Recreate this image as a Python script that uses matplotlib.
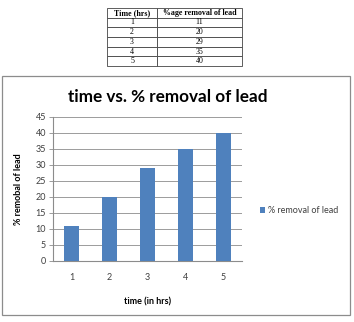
import matplotlib
matplotlib.use('Agg')
import matplotlib.pyplot as plt
from matplotlib.patches import Rectangle

hours = [1, 2, 3, 4, 5]
removal = [11, 20, 29, 35, 40]
col_labels = ['Time (hrs)', '%age removal of lead']
yticks = [0, 5, 10, 15, 20, 25, 30, 35, 40, 45]

plt.rcParams['font.family'] = ['Lato', 'DejaVu Sans']

fig = plt.figure(figsize=(3.54, 3.22), dpi=100)

# data table at the top
tax = fig.add_axes([107 / 354., 1 - 66 / 322., 135 / 354., 58 / 322.])
tax.axis('off')
cells = [[str(h), str(r)] for h, r in zip(hours, removal)]
tbl = tax.table(cellText=cells, colLabels=col_labels, cellLoc='center',
                bbox=[0, 0, 1, 1], colWidths=[50 / 135., 85 / 135.])
tbl.auto_set_font_size(False)
for (row, col), cell in tbl.get_celld().items():
    cell.set_linewidth(0.6)
    cell.set_edgecolor('#444444')
    cell.get_text().set_fontsize(5.7)
    cell.get_text().set_family('Liberation Serif')
    if row == 0:
        cell.get_text().set_fontweight('bold')

# chart frame
fig.patches.append(Rectangle((2 / 354., 1 - 315 / 322.), 348 / 354., 239 / 322.,
                             transform=fig.transFigure, fill=False,
                             edgecolor='#8c8c8c', linewidth=0.9))

ax = fig.add_axes([53 / 354., 1 - 261 / 322., 189 / 354., 144 / 322.])
ax.bar(hours, removal, width=0.4, color='#4f81bd', label='% removal of lead',
       zorder=3)
ax.set_xlim(0.5, 5.5)
ax.set_ylim(0, 45)
ax.set_yticks(yticks)
ax.set_xticks(hours)
ax.grid(axis='y', color='#8c8c8c', linewidth=0.6, zorder=0)
for side in ['top', 'right']:
    ax.spines[side].set_visible(False)
for side in ['left', 'bottom']:
    ax.spines[side].set_color('#8c8c8c')
    ax.spines[side].set_linewidth(0.8)
ax.tick_params(axis='y', length=3, width=0.6, color='#8c8c8c', labelsize=6.5,
               labelcolor='#404040', pad=2)
ax.tick_params(axis='x', length=0, labelsize=6.5, labelcolor='#404040', pad=9)

fig.text(168 / 354., 1 - 97 / 322., 'time vs. % removal of lead', fontsize=12.3,
         fontweight='bold', ha='center', va='center')
ax.set_ylabel('% remobal of lead', fontsize=6.5, fontweight='bold', labelpad=9)
ax.set_xlabel('time (in hrs)', fontsize=6.5, fontweight='bold', labelpad=11)

ax.legend(loc='center left', bbox_to_anchor=(1.05, 0.35), frameon=False,
          fontsize=6.5, handlelength=0.6, handleheight=0.6, handletextpad=0.3,
          labelcolor='#404040')

fig.savefig('out.png', dpi=100)
